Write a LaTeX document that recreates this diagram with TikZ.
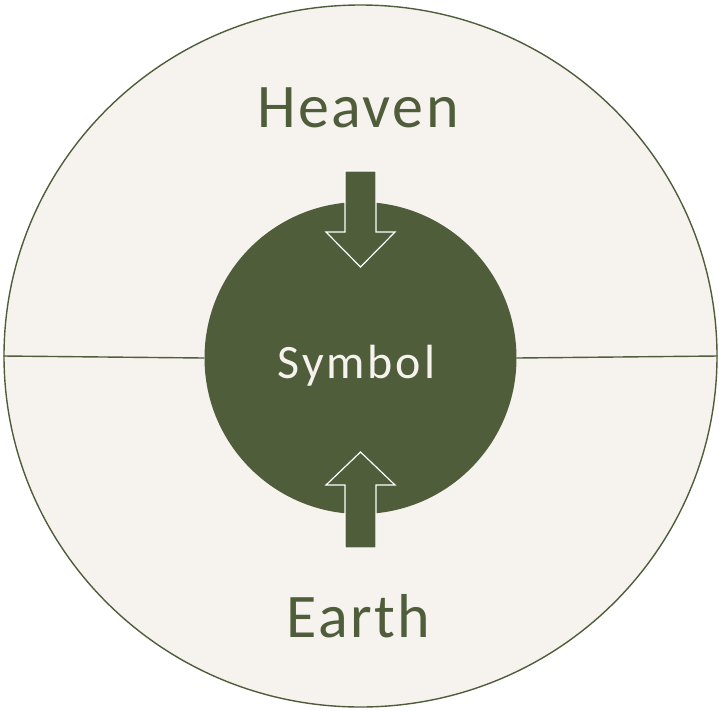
\documentclass[tikz,border=0pt]{standalone}
\usepackage{fontspec}
\setmainfont{Carlito}
\usepackage{tikz}
\usetikzlibrary{shapes.geometric}
\definecolor{moss}{HTML}{4F5D3A}
\definecolor{paper}{HTML}{F6F3EE}
\tikzset{
  realm/.style={font=\fontsize{62}{62}\selectfont\addfontfeature{LetterSpace=4},text=moss,anchor=base},
  flow/.style={fill=moss,draw=white,line width=1.2pt,line join=miter}
}

\begin{document}
\begin{tikzpicture}[x=1pt,y=-1pt]
\useasboundingbox(0,0)rectangle(719,710);
\node[ellipse,draw=moss,fill=paper,line width=1.4pt,minimum width=713pt,minimum height=702pt,inner sep=0pt](world)at(360.5,356){};
\node[circle,fill=moss,minimum size=312pt,inner sep=0pt](symbol)at(360.5,358){};
\draw[moss,line width=1.4pt](world.west)--(symbol.west)
(symbol.east)--(world.east);
\draw[flow](345,171)--(376,171)--(376,232)--(395,232)--(360.5,267)--(326,232)--(345,232)--cycle;
\draw[flow](345,548)--(376,548)--(376,485)--(395,485)--(360.5,452)--(326,485)--(345,485)--cycle;
\node[realm](heaven)at(358,127){Heaven};
\node[realm](earth)at(358.5,637){Earth};
\node[font=\fontsize{48}{48}\selectfont\addfontfeature{LetterSpace=6},text=paper,anchor=base](label)at(356.5,378){Symbol};
\end{tikzpicture}
\end{document}
